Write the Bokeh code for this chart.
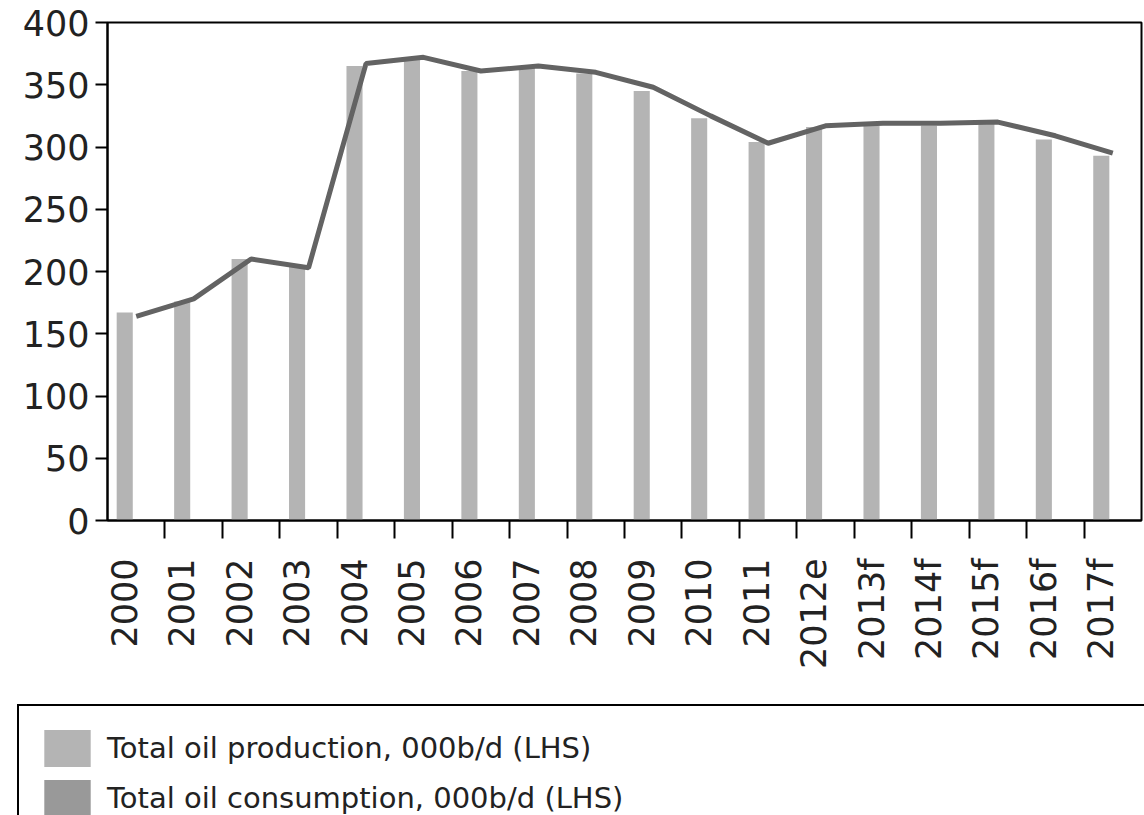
import math
from bokeh.plotting import figure
from bokeh.layouts import column
from bokeh.models import (ColumnDataSource, Range1d, LinearAxis, FixedTicker,
                          Legend, LegendItem)
from bokeh.embed import file_html
from bokeh.resources import INLINE

# ---- data ----
years = ["2000", "2001", "2002", "2003", "2004", "2005", "2006", "2007", "2008",
         "2009", "2010", "2011", "2012e", "2013f", "2014f", "2015f", "2016f", "2017f"]
production = [167, 176, 210, 205, 365, 371, 361, 364, 359,
              345, 323, 304, 316, 317, 317, 320, 306, 293]
line_series = [164, 178, 210, 203, 367, 372, 361, 365, 360,
               348, 325, 303, 317, 319, 319, 320, 309, 295]
y_ticks = [0, 50, 100, 150, 200, 250, 300, 350, 400]
series_names = ["Total oil production, 000b/d (LHS)",
                "Total oil consumption, 000b/d (LHS)"]
series_colors = ["#b4b4b4", "#999999"]

FONT = "DejaVu Sans"
n = len(years)
bar_pos = [i + 0.3 for i in range(n)]
center_pos = [i + 0.5 for i in range(n)]
boundaries = [i for i in range(1, n)]

p = figure(width=1144, height=700, output_backend="svg", toolbar_location=None,
           x_range=Range1d(0, n), y_range=Range1d(0, 400),
           x_axis_location=None, y_axis_location=None,
           min_border_left=107, min_border_right=3, min_border_top=22,
           min_border_bottom=180)
p.frame_align = False
p.grid.visible = False
p.outline_line_color = "black"
p.outline_line_width = 2
p.background_fill_color = "white"
p.border_fill_color = "white"

src = ColumnDataSource(dict(x=bar_pos, top=production))
p.vbar(x="x", top="top", bottom=0, width=0.28, source=src,
       fill_color=series_colors[0], line_color=None)
lsrc = ColumnDataSource(dict(x=center_pos, y=line_series))
p.line(x="x", y="y", source=lsrc, line_color="#636363", line_width=5)

# y axis
yax = LinearAxis(ticker=FixedTicker(ticks=y_ticks))
yax.major_tick_out = 12
yax.major_tick_in = 0
yax.minor_tick_line_color = None
yax.major_tick_line_width = 2
yax.axis_line_width = 2
yax.major_label_standoff = 6
yax.major_label_text_font = FONT
yax.major_label_text_font_size = "35px"
yax.major_label_text_color = "#222222"
p.add_layout(yax, "left")

# x axis: labels under the bars, tick marks at the category boundaries
xax = LinearAxis(ticker=FixedTicker(ticks=bar_pos, minor_ticks=boundaries))
xax.major_label_overrides = {bar_pos[i]: years[i] for i in range(n)}
xax.major_tick_line_color = None
xax.major_tick_out = 0
xax.major_tick_in = 0
xax.minor_tick_out = 18
xax.minor_tick_in = 0
xax.minor_tick_line_width = 2
xax.minor_tick_line_color = "black"
xax.axis_line_width = 2
xax.major_label_orientation = math.pi / 2
xax.major_label_standoff = 20
xax.major_label_text_font = FONT
xax.major_label_text_font_size = "35px"
xax.major_label_text_color = "#222222"
p.add_layout(xax, "below")

# legend panel (separate figure directly below the chart)
lg = figure(width=1144, height=115, output_backend="svg", toolbar_location=None,
            x_range=Range1d(10, 11), y_range=Range1d(10, 11),
            x_axis_location=None, y_axis_location=None,
            min_border_left=0, min_border_right=0, min_border_top=0,
            min_border_bottom=0)
lg.frame_align = False
lg.grid.visible = False
lg.outline_line_color = None
lg.background_fill_color = "white"
lg.border_fill_color = "white"
# swatch-only renderers (kept outside the legend panel's visible range)
swatch_src = ColumnDataSource(dict(x=[0], top=[0]))
r_prod = lg.vbar(x="x", top="top", bottom=0, width=0.1, source=swatch_src,
                 fill_color=series_colors[0], line_color=None)
r_cons = lg.vbar(x="x", top="top", bottom=0, width=0.1, source=swatch_src,
                 fill_color=series_colors[1], line_color=None)

legend = Legend(items=[LegendItem(label=series_names[0], renderers=[r_prod]),
                       LegendItem(label=series_names[1], renderers=[r_cons])],
                location=(17, -27), orientation="vertical")
legend.border_line_color = "black"
legend.border_line_alpha = 1.0
legend.border_line_width = 2
legend.background_fill_color = "white"
legend.background_fill_alpha = 1.0
legend.label_text_font = FONT
legend.label_text_font_size = "29px"
legend.label_text_color = "#222222"
legend.label_standoff = 11
legend.glyph_width = 58
legend.glyph_height = 46
legend.label_width = 1100
legend.label_height = 46
legend.padding = 19
legend.spacing = 4
legend.margin = 0
lg.add_layout(legend, "center")

open("out.html", "w").write(file_html(column(p, lg, spacing=0), INLINE))
